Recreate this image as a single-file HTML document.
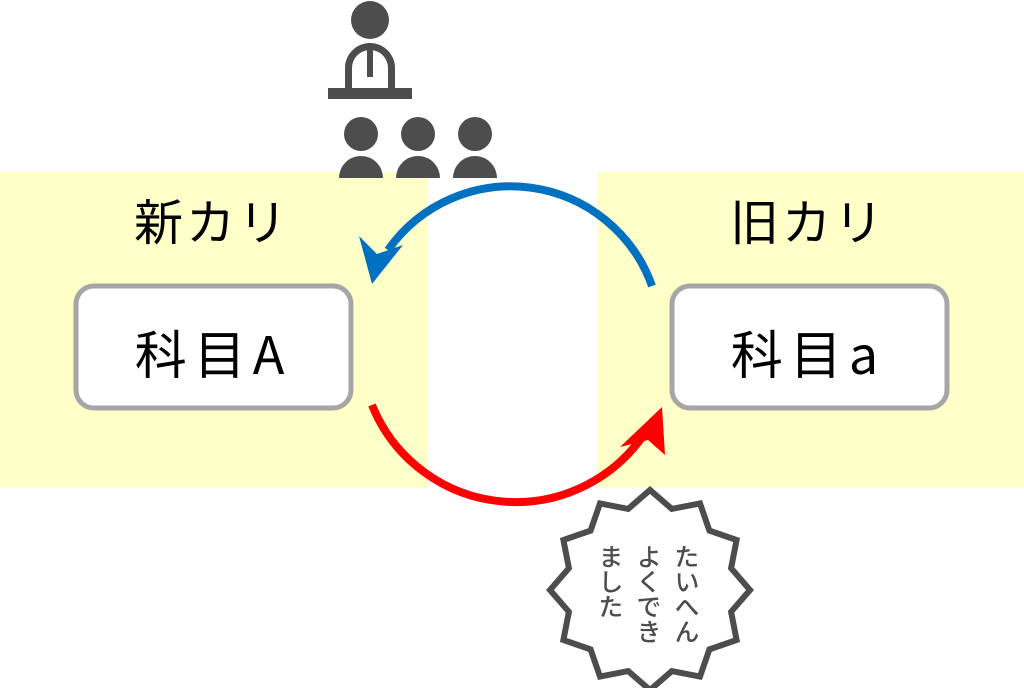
<!DOCTYPE html>
<html><head><meta charset="utf-8"><style>
html,body{margin:0;padding:0;background:#fff;}
body{width:1024px;height:688px;position:relative;overflow:hidden;font-family:"Liberation Sans","Noto Sans CJK JP",sans-serif;}
</style></head><body>
<svg width="1024" height="688" viewBox="0 0 1024 688" xmlns="http://www.w3.org/2000/svg" style="position:absolute;left:0;top:0">
<rect x="0" y="172" width="427" height="316" fill="#ffffc8"/>
<rect x="597" y="172" width="427" height="316" fill="#ffffc8"/>
<g fill="#4d4d4d">
<circle cx="370" cy="20" r="19"/>
<path d="M345 90 V68 a25 25 0 0 1 50 0 V90 H388 V68 a18 18 0 0 0 -36 0 V90 Z"/>
<rect x="367" y="49" width="6" height="28"/>
<rect x="328" y="88" width="84" height="11"/>
<circle cx="361" cy="134" r="17"/>
<circle cx="418" cy="134" r="17"/>
<circle cx="475" cy="134" r="17"/>
<path d="M339 178 a22 22 0 0 1 44 0 Z"/>
<path d="M396 178 a22 22 0 0 1 44 0 Z"/>
<path d="M453 178 a22 22 0 0 1 44 0 Z"/>
</g>
<path d="M652 286 A150 150 0 0 0 388 250" fill="none" stroke="#0070c0" stroke-width="8"/>
<polygon points="372,284 359,236 377,254 403,245" fill="#0070c0"/>
<path d="M372 405 A155 155 0 0 0 648 428" fill="none" stroke="#ff0000" stroke-width="8"/>
<polygon points="662,407 665,455 648,440 620,447" fill="#ff0000"/>
<rect x="76" y="286" width="275" height="122" rx="18" fill="#fff" stroke="#a6a6a6" stroke-width="5"/>
<rect x="672" y="286" width="275" height="122" rx="18" fill="#fff" stroke="#a6a6a6" stroke-width="5"/>
<text x="213" y="374" font-size="52" letter-spacing="7" text-anchor="middle" fill="#000" font-family="Noto Sans CJK JP, sans-serif">科目A</text>
<text x="808" y="374" font-size="52" letter-spacing="7" text-anchor="middle" fill="#000" font-family="Noto Sans CJK JP, sans-serif">科目a</text>
<text x="212" y="240" font-size="49" letter-spacing="3" text-anchor="middle" fill="#000" font-family="Noto Sans CJK JP, sans-serif">新カリ</text>
<text x="808" y="240" font-size="49" letter-spacing="3" text-anchor="middle" fill="#000" font-family="Noto Sans CJK JP, sans-serif">旧カリ</text>
<polygon points="750,590 731.1,611.8 736.6,640 709.4,649.4 700,676.6 671.8,671.1 650,690 628.2,671.1 600,676.6 590.6,649.4 563.4,640 568.9,611.8 550,590 568.9,568.2 563.4,540 590.6,530.6 600,503.4 628.2,508.9 650,490 671.8,508.9 700,503.4 709.4,530.6 736.6,540 731.1,568.2" fill="#fff" stroke="#4d4d4d" stroke-width="6" stroke-linejoin="miter"/>
</svg>
<div style="position:absolute;left:594px;top:544px;width:112px;height:110px;writing-mode:vertical-rl;font-family:'Noto Sans CJK JP',sans-serif;font-size:25px;line-height:38px;color:#4d4d4d;font-weight:500;">たいへん<br>よくでき<br>ました</div>
</body></html>
